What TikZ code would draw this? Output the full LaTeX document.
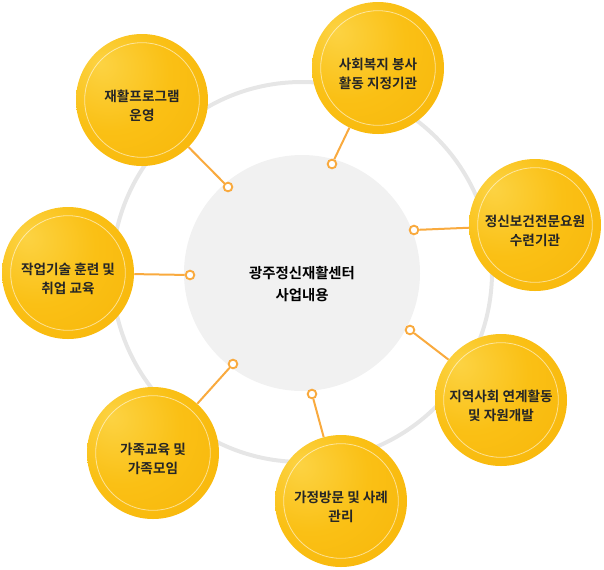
\documentclass[tikz,border=0pt]{standalone}
\usepackage{fontspec}
\newfontfamily\krfont{Noto Sans CJK KR}[UprightFont=* Bold]
\usepackage{xcolor}
\usepackage{tikz}
\definecolor{HubGray}{HTML}{F1F1F1}
\definecolor{RingGray}{HTML}{E6E6E6}
\definecolor{LinkOrange}{HTML}{F9AA3E}
\definecolor{BallLight}{HTML}{FCD343}
\definecolor{BallMid}{HTML}{FAC015}
\definecolor{BallEdge}{HTML}{F7B104}
\definecolor{LabelDark}{HTML}{262626}
\pgfdeclareradialshading{ballshade}{\pgfpoint{-16bp}{14bp}}{%
  color(0bp)=(BallLight); color(22bp)=(BallMid); color(55bp)=(BallEdge); color(80bp)=(BallEdge)}
\tikzset{
  ring/.style={draw=RingGray,line width=3pt},
  hub/.style={circle,fill=HubGray,minimum size=177pt,inner sep=0pt},
  hubtext/.style={font=\krfont\fontsize{10.8}{16.5}\selectfont,text=black,align=center,yshift=-8pt},
  ball/.style={circle,shading=ballshade,minimum size=99pt,inner sep=0pt,
    path picture={\draw[white,opacity=0.55,line width=0.6pt]
      (path picture bounding box.center) circle (43pt);}},
  balltext/.style={font=\krfont\fontsize{10.2}{13.75}\selectfont,text=LabelDark,align=center,yshift=-4.5pt},
  joint/.style={circle,draw=LinkOrange,line width=1.4pt,fill=white,minimum size=6.5pt,inner sep=0pt},
  link/.style={draw=LinkOrange,line width=1.5pt}
}
\begin{document}
\begin{tikzpicture}[x=0.75pt,y=-0.75pt]
  \useasboundingbox (0,0) rectangle (604,569);
  % outer ring and centre disc
  \draw[ring] (302,272) circle [radius=190];
  \node[hub,label={[hubtext]center:광주정신재활센터\\사업내용}] (hub) at (302,273) {};
  % topics
  \node[ball,label={[balltext]center:재활프로그램\\운영}] (program) at (142,100) {};
  \node[ball,label={[balltext]center:사회복지 봉사\\활동 지정기관}] (volunteer) at (378,68) {};
  \node[ball,label={[balltext]center:정신보건전문요원\\수련기관}] (trainee) at (535,225) {};
  \node[ball,label={[balltext]center:지역사회 연계활동\\및 자원개발}] (network) at (501,400) {};
  \node[ball,label={[balltext]center:가정방문 및 사례\\관리}] (visit) at (341,501) {};
  \node[ball,label={[balltext]center:가족교육 및\\가족모임}] (family) at (153,453) {};
  \node[ball,label={[balltext]center:작업기술 훈련 및\\취업 교육}] (vocation) at (68,273) {};
  % joints on the disc
  \node[joint] (jprogram) at (228,187) {};
  \node[joint] (jvolunteer) at (332,164) {};
  \node[joint] (jtrainee) at (414,230) {};
  \node[joint] (jnetwork) at (410,330) {};
  \node[joint] (jvisit) at (312,394) {};
  \node[joint] (jfamily) at (233,364) {};
  \node[joint] (jvocation) at (190,275) {};
  \foreach \name in {program,volunteer,trainee,network,visit,family,vocation}
    \draw[link] (j\name) -- (\name);
\end{tikzpicture}
\end{document}
